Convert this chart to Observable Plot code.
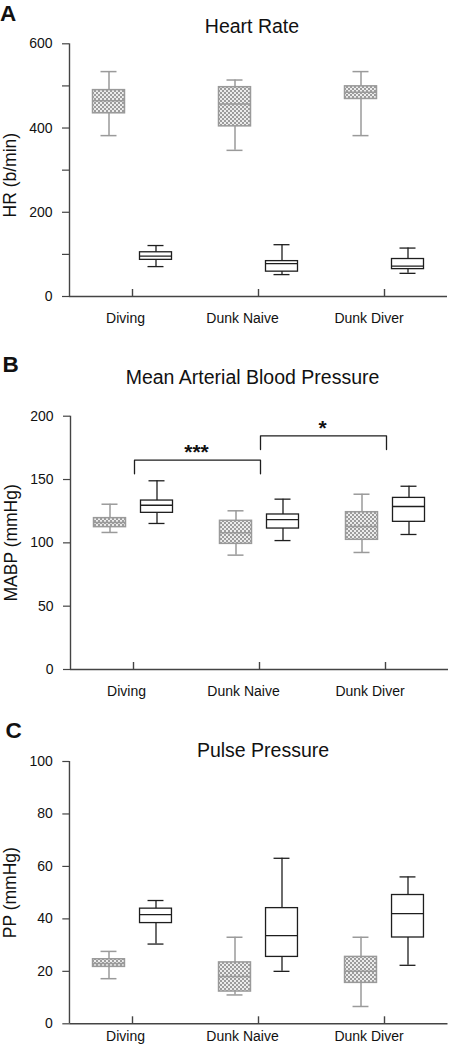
<!DOCTYPE html>
<html>
<head>
<meta charset="utf-8">
<script src="https://cdn.jsdelivr.net/npm/d3@7"></script>
<script src="https://cdn.jsdelivr.net/npm/@observablehq/plot@0.6"></script>
<style>
  body { margin: 0; background: #fff; }
  #page { position: relative; width: 450px; height: 1044px; overflow: hidden;
          font-family: Arial, "Liberation Sans", sans-serif; color: #111; }
  .panel { position: absolute; left: 0; width: 450px; z-index: 1; }
  .letter { position: absolute; z-index: 3; font-weight: bold; font-size: 22.5px; line-height: 1; }
  .title { position: absolute; z-index: 3; left: 0; text-align: center; font-size: 19.5px; line-height: 1; white-space: nowrap; }
</style>
</head>
<body>
<svg width="0" height="0" style="position:absolute">
  <defs>
    <pattern id="checker" width="4" height="4" patternUnits="userSpaceOnUse">
      <rect width="4" height="4" fill="#ececec"></rect>
      <rect x="0" y="0" width="2" height="2" fill="#9c9c9c"></rect>
      <rect x="2" y="2" width="2" height="2" fill="#9c9c9c"></rect>
    </pattern>
  </defs>
</svg>
<div id="page">
  <div class="panel" id="pA" style="top:0px"></div>
  <div class="panel" id="pB" style="top:330px"></div>
  <div class="panel" id="pC" style="top:700px"></div>
  <div class="letter" style="left:0px;top:2.8px">A</div>
  <div class="title" style="top:16.8px;width:504px">Heart Rate</div>
  <div class="letter" style="left:2.5px;top:354.4px">B</div>
  <div class="title" style="top:367.5px;width:505px">Mean Arterial Blood Pressure</div>
  <div class="letter" style="left:5.5px;top:720px">C</div>
  <div class="title" style="top:740.5px;width:526px">Pulse Pressure</div>
</div>
<script>
// ---- data ----
const categories = ["Diving", "Dunk Naive", "Dunk Diver"];
// five-number summaries per category: [min, q1, median, q3, max]
const hrGray    = [[382, 435, 465, 490, 534], [347, 404, 457, 497, 514], [382, 469, 485, 499, 534]];
const hrBlack   = [[71, 87, 96, 105, 121], [52, 59, 78, 84, 123], [55, 65, 72, 89, 115]];
const mabpGray  = [[108.2, 112.4, 116, 119.5, 130.5], [90.3, 99.2, 108, 117.4, 125.3], [92.4, 102.4, 113, 124.2, 138.4]];
const mabpBlack = [[115.3, 123.7, 129.7, 133.4, 149], [101.8, 111.3, 118.4, 122.4, 134.5], [106.6, 116.6, 128.7, 135.5, 144.7]];
const ppGray    = [[17.2, 21.7, 23, 24.6, 27.6], [11, 12.3, 18, 23.4, 33], [6.6, 15.6, 20, 25.5, 33]];
const ppBlack   = [[30.4, 38.4, 41.6, 43.9, 47], [20, 25.5, 33.6, 44.1, 63.1], [22.3, 32.9, 42, 49.1, 56]];
const hrTicks = [0, 100, 200, 300, 400, 500, 600];
const hrTickLabels = [0, 200, 400, 600];
const mabpTicks = [0, 50, 100, 150, 200];
const ppTicks = [0, 20, 40, 60, 80, 100];
// significance brackets (panel B): from, to, bar level, leg bottom, label, label level
const sigFrom   = ["Diving", "Dunk Naive"];
const sigTo     = ["Dunk Naive", "Dunk Diver"];
const sigBar    = [165.3, 184.5];
const sigLeg    = [154.5, 173.7];
const sigLabel  = ["***", "*"];
const sigLabelY = [171.5, 190.3];

const GRAY = "#9a9a9a";
const DARK = "#1e1e1e";
const AXIS = "#444";
const labelShift = [-7, -16, -15.5];

function rows(summary) {
  return categories.map((c, i) => ({cat: c, min: summary[i][0], q1: summary[i][1], med: summary[i][2], q3: summary[i][3], max: summary[i][4]}));
}

function boxMarks(summary, side, bw) {
  const data = rows(summary);
  const gray = side < 0;
  const c = gray ? -23.5 : 23.5;           // box centre offset from band centre
  const half = 16, cap = 8;
  const stroke = gray ? GRAY : DARK;
  const sw = gray ? 1.5 : 1.3;
  const boxL = bw / 2 + c - half, boxR = bw / 2 - c - half;
  const capL = bw / 2 + c - cap, capR = bw / 2 - c - cap;
  return [
    Plot.ruleX(data, {x: "cat", y1: "min", y2: "max", dx: c, stroke, strokeWidth: sw}),
    Plot.barY(data, {x: "cat", y1: "q1", y2: "q3", insetLeft: boxL, insetRight: boxR,
      fill: gray ? "url(#checker)" : "white", stroke, strokeWidth: sw}),
    Plot.tickY(data, {x: "cat", y: "med", insetLeft: boxL, insetRight: boxR, stroke, strokeWidth: sw}),
    Plot.tickY(data, {x: "cat", y: "min", insetLeft: capL, insetRight: capR, stroke, strokeWidth: sw}),
    Plot.tickY(data, {x: "cat", y: "max", insetLeft: capL, insetRight: capR, stroke, strokeWidth: sw})
  ];
}

function panel(el, cfg) {
  const {height, mt, mb, ml, mr, domain, ticks, tickLabels, gray, black, ylabel, ylabelDy, labelPad, extra} = cfg;
  const bw = (450 - ml - mr) / 3;
  const innerH = height - mt - mb;
  const marks = [
    ...boxMarks(gray, -1, bw),
    ...boxMarks(black, 1, bw),
    Plot.ruleY([domain[0]], {stroke: AXIS, strokeWidth: 1.4}),
    Plot.ruleX([categories[0]], {x: d => d, dx: -bw / 2, y1: domain[0], y2: domain[1], stroke: AXIS, strokeWidth: 1.4}),
    Plot.ruleX(categories, {x: d => d, insetTop: innerH - 7, stroke: AXIS, strokeWidth: 1.4}),
    Plot.axisY({ticks, tickSize: 7, tickPadding: 10, stroke: AXIS, strokeWidth: 1.2, fontSize: 14, fill: "#111",
      tickFormat: d => (tickLabels.includes(d) ? String(d) : ""), label: null}),
    ...categories.map((c, i) => Plot.text([c], {x: d => d, frameAnchor: "bottom", lineAnchor: "top",
      dx: labelShift[i], dy: labelPad, fontSize: 14, fill: "#111"})),
    Plot.text([ylabel], {frameAnchor: "left", textAnchor: "middle", lineAnchor: "middle", rotate: -90,
      dx: -59, dy: ylabelDy, fontSize: 17.5, fill: "#111"}),
    ...(extra ? extra(bw) : [])
  ];
  const chart = Plot.plot({
    width: 450, height,
    marginTop: mt, marginBottom: mb, marginLeft: ml, marginRight: mr,
    style: {fontFamily: "Arial, 'Liberation Sans', sans-serif", fontSize: "14px", color: "#111", background: "transparent"},
    x: {type: "band", domain: categories, padding: 0, axis: null},
    y: {domain, axis: null},
    marks
  });
  document.getElementById(el).appendChild(chart);
}

panel("pA", {height: 330, mt: 43.3, mb: 34, ml: 69, mr: 3, domain: [0, 600], ticks: hrTicks, tickLabels: hrTickLabels,
  gray: hrGray, black: hrBlack, ylabel: "HR (b/min)", ylabelDy: 5, labelPad: 17});

panel("pB", {height: 370, mt: 85.7, mb: 31, ml: 70, mr: 2, domain: [0, 200], ticks: mabpTicks, tickLabels: mabpTicks,
  gray: mabpGray, black: mabpBlack, ylabel: "MABP (mmHg)", ylabelDy: 0, labelPad: 17,
  extra: (bw) => {
    const out = [];
    sigFrom.forEach((f, i) => {
      const pts = [
        {x: f, y: sigLeg[i]}, {x: f, y: sigBar[i]},
        {x: sigTo[i], y: sigBar[i]}, {x: sigTo[i], y: sigLeg[i]}
      ];
      out.push(Plot.line(pts, {x: "x", y: "y", dx: 1, stroke: DARK, strokeWidth: 1.3}));
      out.push(Plot.text([sigLabel[i]], {x: () => f, y: () => sigLabelY[i], dx: bw / 2, fontSize: 21, fontWeight: "bold", fill: "#111"}));
    });
    return out;
  }});

panel("pC", {height: 344, mt: 61, mb: 20.7, ml: 69.3, mr: 2.5, domain: [0, 100], ticks: ppTicks, tickLabels: ppTicks,
  gray: ppGray, black: ppBlack, ylabel: "PP (mmHg)", ylabelDy: 0, labelPad: 7});
</script>
</body>
</html>
